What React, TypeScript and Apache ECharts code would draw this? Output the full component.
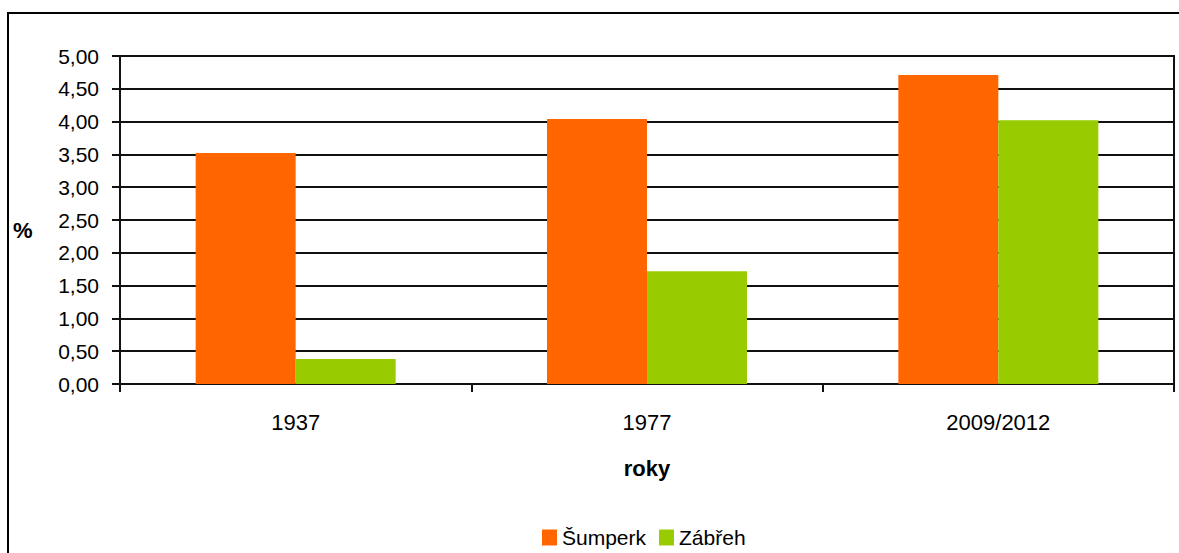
import React, { useEffect, useRef } from "react";
import * as echarts from "echarts";

const categories = ["1937", "1977", "2009/2012"];
const sumperk = [3.52, 4.04, 4.71];
const zabreh = [0.38, 1.72, 4.02];
const seriesNames = ["Šumperk", "Zábřeh"];

const FONT = "'Liberation Sans', Arial, sans-serif";

export default function App() {
  const ref = useRef<HTMLDivElement>(null);
  useEffect(() => {
    if (!ref.current) return;
    const chart = echarts.init(ref.current, undefined, { renderer: "svg" });
    chart.setOption({
      animation: false,
      backgroundColor: "#fff",
      textStyle: { fontFamily: FONT },
      graphic: [
        {
          type: "rect",
          shape: { x: 8, y: 13, width: 1200, height: 600 },
          style: { fill: "none", stroke: "#000", lineWidth: 2 },
          silent: true,
        },
        {
          type: "text",
          left: 13,
          top: 219,
          style: {
            text: "%",
            fontSize: 22,
            fontWeight: "bold",
            fill: "#000",
            fontFamily: FONT,
          },
          silent: true,
        },
      ],
      grid: {
        left: 120,
        top: 56,
        right: 5,
        bottom: 169,
        show: true,
        borderColor: "#111",
        borderWidth: 2,
      },
      legend: {
        left: 537,
        top: 522,
        itemWidth: 15,
        itemHeight: 16,
        itemGap: 13,
        icon: "rect",
        textStyle: { fontSize: 21, color: "#000", fontFamily: FONT },
        data: seriesNames,
      },
      xAxis: {
        type: "category",
        data: categories,
        name: "roky",
        nameLocation: "middle",
        nameGap: 73,
        nameTextStyle: { fontSize: 22, fontWeight: "bold", color: "#000", fontFamily: FONT },
        axisLine: { lineStyle: { color: "#111", width: 2 } },
        axisTick: { show: true, length: 8, lineStyle: { color: "#111", width: 2 } },
        axisLabel: { fontSize: 22, color: "#000", margin: 27, fontFamily: FONT },
      },
      yAxis: {
        type: "value",
        min: 0,
        max: 5,
        interval: 0.5,
        axisLine: { show: true, lineStyle: { color: "#111", width: 2 } },
        axisTick: { show: true, length: 8, lineStyle: { color: "#111", width: 2 } },
        axisLabel: {
          fontSize: 21,
          color: "#000",
          margin: 21,
          fontFamily: FONT,
          formatter: (v: number) => v.toFixed(2).replace(".", ","),
        },
        splitLine: { show: true, lineStyle: { color: "#111", width: 2 } },
      },
      series: [
        {
          name: seriesNames[0],
          type: "bar",
          data: sumperk,
          itemStyle: { color: "#FF6600" },
          barWidth: 100,
          barGap: "0%",
        },
        {
          name: seriesNames[1],
          type: "bar",
          data: zabreh,
          itemStyle: { color: "#99CC00" },
          barWidth: 100,
          barGap: "0%",
        },
      ],
    });
    return () => chart.dispose();
  }, []);
  return (
    <div
      ref={ref}
      style={{ position: "fixed", left: 0, top: 0, width: 1179, height: 553 }}
    />
  );
}
